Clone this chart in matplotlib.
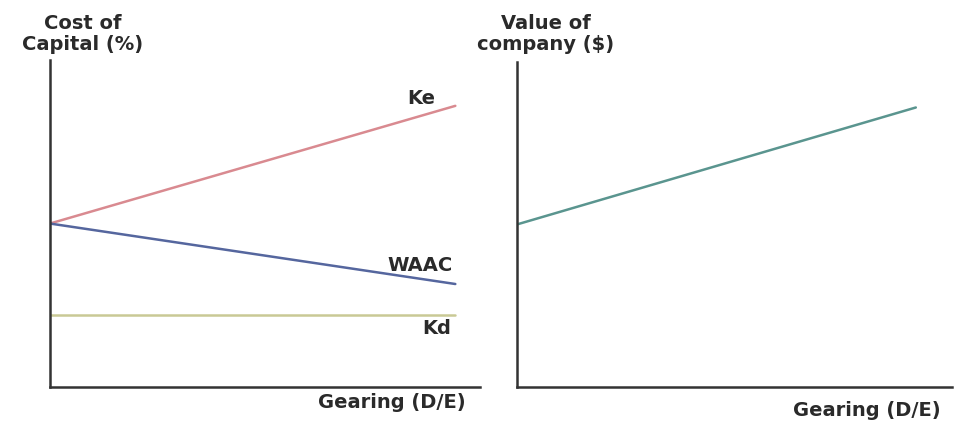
import matplotlib.pyplot as plt

# Gearing (D/E) on both panels, arbitrary units
GEARING = [0.0, 1.0]

# Left panel: cost of capital (%), arbitrary units
KE = [5.0, 8.6]
WAAC = [5.0, 3.15]
KD = [2.2, 2.2]

# Right panel: value of company ($), arbitrary units
VALUE = [5.0, 8.6]

LINE_LABELS = ["Ke", "WAAC", "Kd"]

COLORS = {"Ke": "#d98a90", "WAAC": "#55669e", "Kd": "#c9c995", "Value": "#5a958f"}
SPINE_COLOR = "#333333"

plt.rcParams["font.family"] = ["DejaVu Sans"]

fig = plt.figure(figsize=(9.57, 4.24), dpi=100)
ax_l = fig.add_axes([0.0522, 0.0873, 0.449, 0.771])
ax_r = fig.add_axes([0.540, 0.0873, 0.4545, 0.7665])

for ax in (ax_l, ax_r):
    ax.spines["top"].set_visible(False)
    ax.spines["right"].set_visible(False)
    for side in ("left", "bottom"):
        ax.spines[side].set_color(SPINE_COLOR)
        ax.spines[side].set_linewidth(1.8)
    ax.set_xticks([])
    ax.set_yticks([])
    ax.set_ylim(0, 10)

ax_l.set_xlim(0, 1.06)
ax_r.set_xlim(0, 1.09)

ax_l.plot(GEARING, KE, color=COLORS["Ke"], linewidth=1.8, solid_capstyle="round")
ax_l.plot(GEARING, WAAC, color=COLORS["WAAC"], linewidth=1.8, solid_capstyle="round")
ax_l.plot(GEARING, KD, color=COLORS["Kd"], linewidth=1.8, solid_capstyle="round")
ax_r.plot(GEARING, VALUE, color=COLORS["Value"], linewidth=1.8, solid_capstyle="round")

label_kw = dict(fontsize=14, fontweight="bold", color="#2a2a2a", ha="center", va="center")
ax_l.text(0.917, 8.81, LINE_LABELS[0], **label_kw)
ax_l.text(0.914, 3.73, LINE_LABELS[1], **label_kw)
ax_l.text(0.954, 1.80, LINE_LABELS[2], **label_kw)

title_kw = dict(fontsize=14, fontweight="bold", color="#2a2a2a", ha="center", va="center",
                linespacing=1.15)
fig.text(83 / 957, 1 - 34 / 424, "Cost of\nCapital (%)", **title_kw)
fig.text(546 / 957, 1 - 34 / 424, "Value of\ncompany ($)", **title_kw)

fig.text(392 / 957, 1 - 402 / 424, "Gearing (D/E)", **title_kw)
fig.text(867 / 957, 1 - 410 / 424, "Gearing (D/E)", **title_kw)

fig.savefig("out.png", dpi=100)
